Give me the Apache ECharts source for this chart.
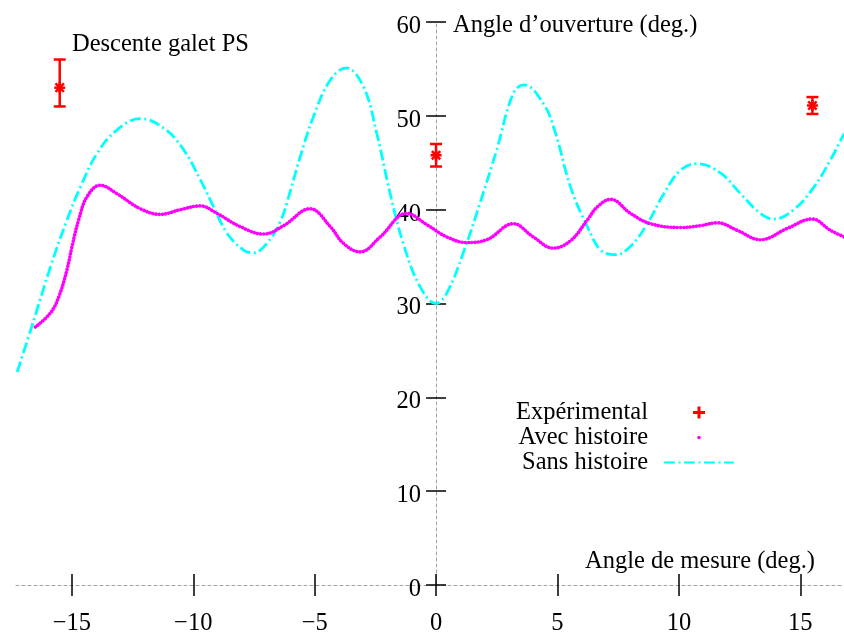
<!DOCTYPE html>
<html>
<head>
<meta charset="utf-8">
<script src="https://cdn.jsdelivr.net/npm/echarts@6/dist/echarts.min.js"></script>
<style>
html,body{margin:0;padding:0;background:#fff;}
#chart{width:844px;height:632px;}
</style>
</head>
<body>
<div id="chart"></div>
<script>
// ---- Data ----
const xTickValues = [-15, -10, -5, 0, 5, 10, 15];
const yTickValues = [0, 10, 20, 30, 40, 50, 60];

// Expérimental (with error bars)
const expX    = [-15.5, 0, 15.5];
const expY    = [53.0, 45.8, 51.1];
const expLow  = [51.0, 44.6, 50.2];
const expHigh = [56.0, 47.0, 52.0];

// Avec histoire (magenta dots)
const avecX = [-16.5, -15.88, -15.54, -15.2, -14.99, -14.72, -14.37, -13.83, -13.14, -12.18,
               -11.36, -10.53, -9.71, -9.02, -8.07, -7.1, -6.28, -5.19, -4.36, -3.81,
               -3.13, -2.3, -1.21, -0.38, 0.44, 1.26, 2.09, 3.18, 4.0, 4.83,
               5.54, 6.23, 6.64, 7.19, 8.01, 8.84, 10.07, 10.89, 11.58, 12.4,
               13.36, 14.46, 15.49, 16.24, 16.8];
const avecY = [27.5, 29.0, 30.7, 33.6, 36.1, 38.9, 41.4, 42.6, 41.7, 40.1,
               39.5, 40.0, 40.4, 39.6, 38.2, 37.4, 38.3, 40.1, 38.2, 36.4,
               35.5, 37.1, 39.6, 38.4, 37.1, 36.5, 36.8, 38.5, 37.1, 35.9,
               36.7, 38.9, 40.3, 41.1, 39.6, 38.5, 38.1, 38.3, 38.6, 37.8,
               36.8, 38.0, 39.0, 37.8, 37.1];

// Sans histoire (cyan dash-dot)
const sansX = [-17.25, -16.57, -15.88, -15.2, -14.65, -13.96, -13.14, -12.18, -11.22, -10.4,
               -9.71, -9.16, -8.61, -7.93, -7.52, -6.97, -6.42, -6.0, -5.6, -5.05,
               -4.36, -3.7, -2.99, -2.44, -1.89, -1.35, -0.66, 0, 0.44, 1.12,
               1.81, 2.5, 3.18, 3.62, 4.42, 4.9, 5.54, 6.23, 6.78, 7.39,
               8.01, 8.7, 9.38, 10.07, 10.75, 11.72, 12.54, 13.36, 13.91, 14.73,
               15.56, 16.24, 16.8];
const sansY = [22.7, 28.2, 33.9, 38.9, 42.4, 46.0, 48.5, 49.7, 48.7, 46.4,
               43.2, 40.3, 37.5, 35.7, 35.4, 36.4, 38.7, 42.0, 45.6, 49.9,
               53.8, 55.1, 53.1, 48.1, 41.7, 36.4, 31.8, 30.0, 31.1, 35.4,
               40.7, 46.4, 52.4, 53.3, 51.3, 48.3, 42.4, 38.2, 35.7, 35.2,
               36.1, 38.5, 41.7, 44.2, 44.9, 43.9, 41.7, 39.6, 39.0, 40.0,
               42.4, 45.3, 48.1];

const seriesNames = ['Expérimental', 'Avec histoire', 'Sans histoire'];
const titleText = 'Descente galet PS';
const xName = 'Angle de mesure (deg.)';
const yName = 'Angle d\u2019ouverture (deg.)';

// ---- Build ----
const FONT = 'Liberation Serif';
const FS = 24.5;
const zip = (xs, ys) => xs.map((x, i) => [x, ys[i]]);
const expData = expX.map((x, i) => [x, expY[i], expLow[i], expHigh[i]]);
const minusFmt = v => (v < 0 ? '\u2212' + Math.abs(v) : String(v));

const plusIcon = 'path://M0,0M14,14M5.5,1H8.5V5.5H13V8.5H8.5V13H5.5V8.5H1V5.5H5.5Z';
const dotIcon = 'path://M0,0M14,14M5.2,7A1.8,1.8 0 1,0 8.8,7A1.8,1.8 0 1,0 5.2,7Z';

const W = 844, H = 632;
const G_LEFT = 16, G_RIGHT = 0, G_TOP = 22, G_BOTTOM = 47;
const X_MIN = -17.3, X_MAX = 16.8, Y_MIN = 0, Y_MAX = 60;
// pixel offset of x = 0 inside the grid, so the vertical axes sit on x = 0
const gridW = W - G_LEFT - G_RIGHT, gridH = H - G_TOP - G_BOTTOM;
const zeroOffLeft = (0 - X_MIN) / (X_MAX - X_MIN) * gridW;
const zeroOffRight = gridW - zeroOffLeft;

const axisLineStyle = {color: '#a0a0a0', width: 1, type: [3, 3]};
const tickStyle = {color: '#000', width: 1.5};

const chart = echarts.init(document.getElementById('chart'), null, {renderer: 'canvas'});
chart.setOption({
  animation: false,
  backgroundColor: '#fff',
  title: {
    text: titleText,
    left: 72, top: 32,
    padding: 0,
    textStyle: {fontFamily: FONT, fontSize: FS, fontWeight: 'normal', color: '#000', lineHeight: 26}
  },
  legend: {
    orient: 'vertical',
    right: 109, top: 400,
    padding: 0,
    itemGap: 0,
    itemWidth: 70, itemHeight: 14,
    itemTextGap: 17,
    align: 'right',
    selectedMode: false,
    textStyle: {fontFamily: FONT, fontSize: FS, color: '#000', lineHeight: 24, padding: [0, 11, 0, 0]},
    data: [
      {name: seriesNames[0], icon: plusIcon, itemStyle: {color: '#ff0000'}},
      {name: seriesNames[1], icon: dotIcon, itemStyle: {color: '#ff00ff'}},
      {name: seriesNames[2], itemStyle: {color: 'rgba(0,0,0,0)', opacity: 0}}
    ]
  },
  grid: {left: G_LEFT, right: G_RIGHT, top: G_TOP, bottom: G_BOTTOM,
         containLabel: false, outerBoundsMode: 'none'},
  xAxis: [
    {
      type: 'value', min: X_MIN, max: X_MAX, position: 'bottom',
      axisLine: {show: true, onZero: false, lineStyle: axisLineStyle},
      axisTick: {show: true, length: 11, lineStyle: tickStyle, customValues: xTickValues},
      axisLabel: {show: true, customValues: xTickValues, formatter: minusFmt, margin: 26,
                  fontFamily: FONT, fontSize: FS, color: '#000'},
      splitLine: {show: false},
      name: xName, nameLocation: 'end', nameGap: -29,
      nameTextStyle: {fontFamily: FONT, fontSize: FS, color: '#000', align: 'right',
                      verticalAlign: 'bottom', padding: [0, 0, 11, 0]}
    },
    {
      type: 'value', min: X_MIN, max: X_MAX, position: 'top', offset: -gridH,
      axisLine: {show: false, onZero: false},
      axisTick: {show: true, length: 11, lineStyle: tickStyle, customValues: xTickValues},
      axisLabel: {show: false},
      splitLine: {show: false}
    }
  ],
  yAxis: [
    {
      type: 'value', min: Y_MIN, max: Y_MAX, interval: 10, position: 'left', offset: -zeroOffLeft,
      axisLine: {show: true, onZero: false, lineStyle: axisLineStyle},
      axisTick: {show: true, length: 10, lineStyle: tickStyle, customValues: yTickValues},
      axisLabel: {show: true, customValues: yTickValues, margin: 15,
                  verticalAlign: 'top', lineHeight: 9,
                  fontFamily: FONT, fontSize: FS, color: '#000'},
      splitLine: {show: false},
      name: yName, nameLocation: 'end', nameGap: 0,
      nameTextStyle: {fontFamily: FONT, fontSize: FS, color: '#000', align: 'left',
                      verticalAlign: 'top', lineHeight: 8, padding: [0, 0, 0, 17]}
    },
    {
      type: 'value', min: Y_MIN, max: Y_MAX, interval: 10, position: 'right', offset: -zeroOffRight,
      axisLine: {show: false, onZero: false},
      axisTick: {show: true, length: 10, lineStyle: tickStyle, customValues: yTickValues},
      axisLabel: {show: false},
      splitLine: {show: false}
    }
  ],
  series: [
    {
      name: seriesNames[2],
      type: 'line',
      data: zip(sansX, sansY),
      smooth: 0.4,
      symbol: 'none',
      showSymbol: false,
      z: 2,
      itemStyle: {color: '#00ffff'},
      lineStyle: {color: '#00ffff', width: 2.8, type: [11, 3.5, 2, 3.5]}
    },
    {
      name: seriesNames[1],
      type: 'line',
      data: zip(avecX, avecY),
      smooth: 0.4,
      symbol: 'none',
      showSymbol: false,
      z: 3,
      itemStyle: {color: '#ff00ff'},
      lineStyle: {color: '#ff00ff', width: 3.6, type: [0.01, 3.2], cap: 'round'}
    },
    {
      name: seriesNames[0],
      type: 'custom',
      data: expData,
      encode: {x: 0, y: [1, 2, 3]},
      z: 4,
      itemStyle: {color: '#ff0000'},
      renderItem: function (params, api) {
        const c = api.coord([api.value(0), api.value(1)]);
        const lo = api.coord([api.value(0), api.value(2)]);
        const hi = api.coord([api.value(0), api.value(3)]);
        const cw = 6, s = 5.5, d = 4.2;
        const st = {stroke: '#ff0000', lineWidth: 2.5, fill: null};
        const ln = (x1, y1, x2, y2) => ({type: 'line', shape: {x1, y1, x2, y2}, style: st});
        return {
          type: 'group',
          children: [
            ln(c[0], hi[1], c[0], lo[1]),
            ln(c[0] - cw, hi[1], c[0] + cw, hi[1]),
            ln(c[0] - cw, lo[1], c[0] + cw, lo[1]),
            ln(c[0] - s, c[1], c[0] + s, c[1]),
            ln(c[0], c[1] - s, c[0], c[1] + s),
            ln(c[0] - d, c[1] - d, c[0] + d, c[1] + d),
            ln(c[0] - d, c[1] + d, c[0] + d, c[1] - d)
          ]
        };
      }
    }
  ]
});
</script>
</body>
</html>
